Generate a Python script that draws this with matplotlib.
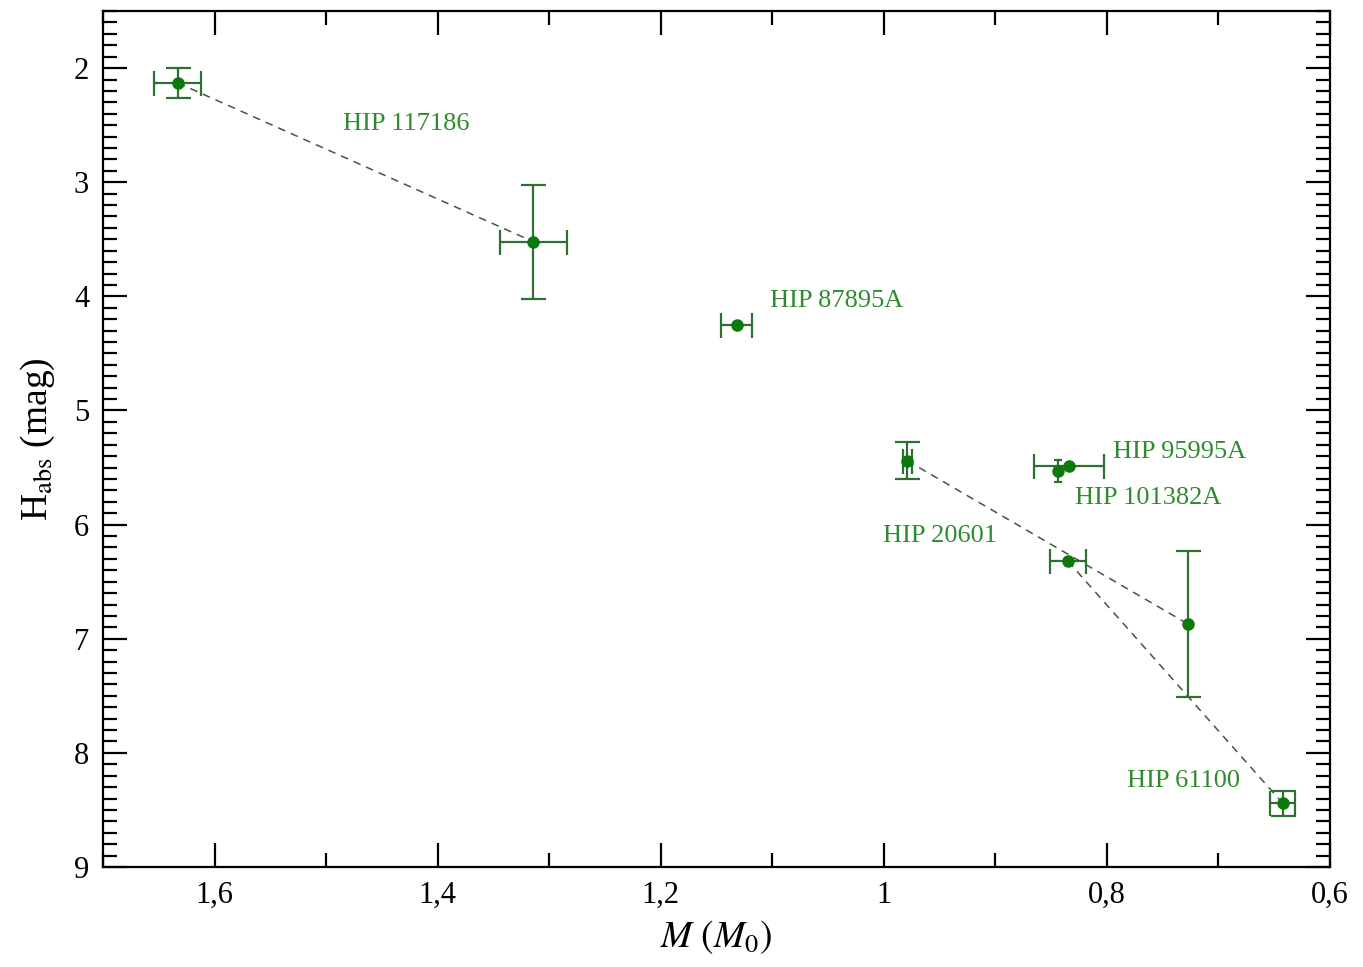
import numpy as np
import matplotlib
matplotlib.use("Agg")
import matplotlib.pyplot as plt
from matplotlib.ticker import MultipleLocator, FuncFormatter

# datos
masa = [1.633, 1.3145, 1.132, 0.979, 0.834, 0.844, 0.835, 0.7275, 0.6425]
masa_err = [0.021, 0.030, 0.014, 0.004, 0.031, 0.003, 0.016, np.nan, 0.011]
habs = [2.13, 3.52, 4.25, 5.44, 5.49, 5.53, 6.32, 6.87, 8.44]
habs_err = [0.13, 0.50, np.nan, 0.16, np.nan, 0.10, np.nan, 0.64, 0.11]
# tamaño de las barras (la de HIP 101382A casi no tiene)
caps = [9, 9, 9, 9, 9, 3, 9, 9, 9]

# componentes unidas por linea discontinua
parejas = [(0, 1), (3, 7), (6, 8)]

nombres = ["HIP 117186", "HIP 87895A", "HIP 95995A", "HIP 101382A", "HIP 20601", "HIP 61100"]
nombres_x = [1.485, 1.1025, 0.795, 0.8286, 1.0005, 0.782]
nombres_y = [2.49, 4.04, 5.36, 5.77, 6.10, 8.25]

plt.rcParams['font.family'] = ['Liberation Serif', 'DejaVu Serif']
plt.rcParams['mathtext.fontset'] = 'stix'

fig = plt.figure(figsize=(13.63, 9.67), dpi=100)
ax = fig.add_axes([0.0756, 0.1034, 0.9002, 0.8852])

for i, j in parejas:
    ax.plot([masa[i], masa[j]], [habs[i], habs[j]], ls=(0, (5, 4)), color='#3c5a3c', lw=1.1, zorder=1)

for k in range(len(masa)):
    ax.errorbar(masa[k], habs[k], xerr=masa_err[k], yerr=habs_err[k], fmt='o', color='#0b7a0b',
                ecolor='#2f6f2f', elinewidth=1.6, capsize=caps[k], capthick=1.6,
                markersize=8, zorder=3)

for n, tx, ty in zip(nombres, nombres_x, nombres_y):
    ax.text(tx, ty, n, color='#2e8b2e', fontsize=19, va='center', ha='left')

ax.set_xlim(1.7, 0.6)
ax.set_ylim(9, 1.5)
ax.xaxis.set_major_locator(MultipleLocator(0.2))
ax.xaxis.set_minor_locator(MultipleLocator(0.1))
ax.yaxis.set_major_locator(MultipleLocator(1))
ax.yaxis.set_minor_locator(MultipleLocator(0.1))
ax.xaxis.set_major_formatter(FuncFormatter(lambda v, p: ('%g' % round(v, 2)).replace('.', ',')))

ax.tick_params(which='both', direction='in', top=True, right=True, width=1.6)
ax.tick_params(which='major', length=17, labelsize=22, pad=10)
ax.tick_params(which='minor', length=10)
for s in ax.spines.values():
    s.set_linewidth(1.6)

ax.set_xlabel(r'$M\ (M_0)$', fontsize=27, labelpad=6)
ax.set_ylabel(r'H$_{\rm abs}$ (mag)', fontsize=27, labelpad=12)

fig.savefig('out.png', dpi=100)
